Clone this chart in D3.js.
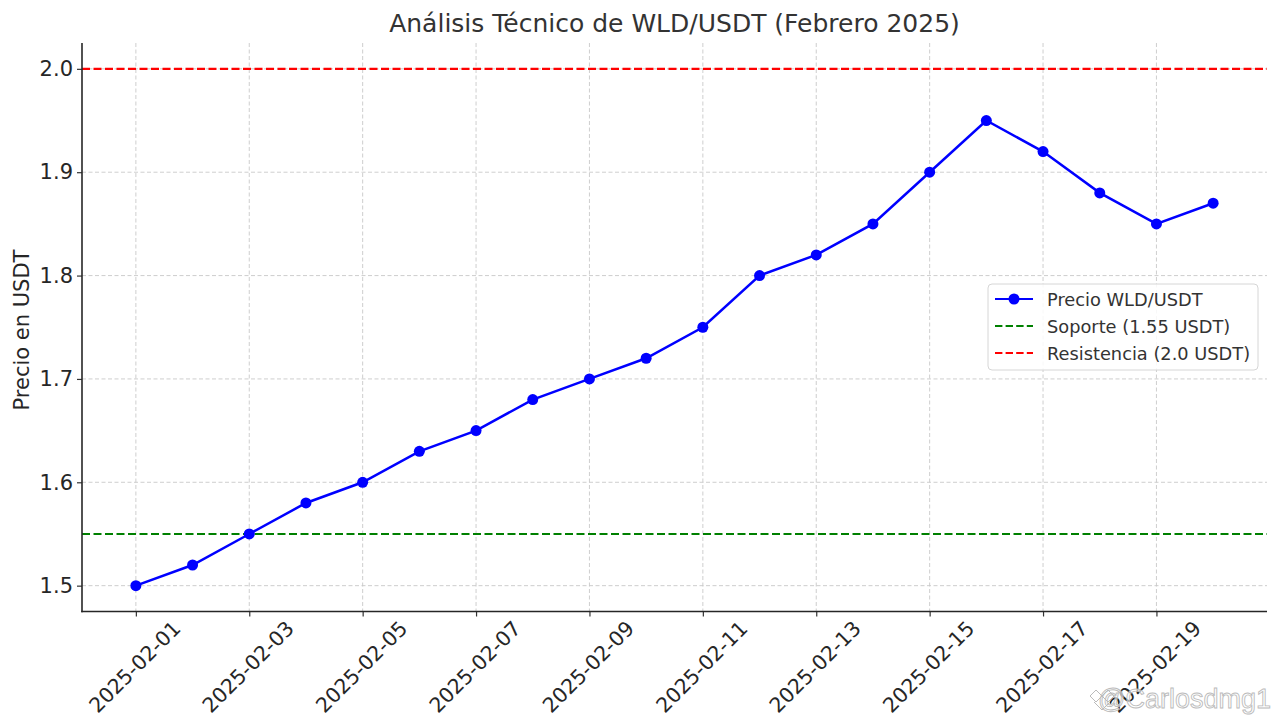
<!DOCTYPE html>
<html><head><meta charset="utf-8">
<script src="https://cdn.jsdelivr.net/npm/d3@7"></script>
<style>body{margin:0;background:#fff}svg{display:block}</style>
</head><body>
<svg id="c" width="1280" height="720"></svg>
<script>
const dates = ["2025-02-01","2025-02-02","2025-02-03","2025-02-04","2025-02-05","2025-02-06","2025-02-07","2025-02-08","2025-02-09","2025-02-10","2025-02-11","2025-02-12","2025-02-13","2025-02-14","2025-02-15","2025-02-16","2025-02-17","2025-02-18","2025-02-19","2025-02-20"];
const prices = [1.50,1.52,1.55,1.58,1.60,1.63,1.65,1.68,1.70,1.72,1.75,1.80,1.82,1.85,1.90,1.95,1.92,1.88,1.85,1.87];
const support = 1.55;
const resistance = 2.0;
const yTicks = [1.5,1.6,1.7,1.8,1.9,2.0];
const xTickLabels = ["2025-02-01","2025-02-03","2025-02-05","2025-02-07","2025-02-09","2025-02-11","2025-02-13","2025-02-15","2025-02-17","2025-02-19"];
const legendLabels = ["Precio WLD/USDT","Soporte (1.55 USDT)","Resistencia (2.0 USDT)"];

const font = "DejaVu Sans, sans-serif";
const svg = d3.select("#c");
const L = 82, R = 1267, T = 43, B = 611.5;
const parse = d3.utcParse("%Y-%m-%d");
const d0 = parse(dates[0]), d1 = parse(dates[dates.length-1]);
const span = d1 - d0;
const x = d3.scaleUtc().domain([new Date(+d0 - span*0.05), new Date(+d1 + span*0.05)]).range([L, R]);
const y = d3.scaleLinear().domain([1.475, 2.025]).range([B, T]);

// grid
const g = svg.append("g");
g.selectAll(".vg").data(xTickLabels).join("line")
  .attr("x1", d => x(parse(d))).attr("x2", d => x(parse(d)))
  .attr("y1", T).attr("y2", B)
  .attr("stroke", "#c8c8c8").attr("stroke-width", 0.9).attr("stroke-dasharray", "4,2.5");
g.selectAll(".hg").data(yTicks).join("line")
  .attr("x1", L).attr("x2", R)
  .attr("y1", d => y(d)).attr("y2", d => y(d))
  .attr("stroke", "#c8c8c8").attr("stroke-width", 0.9).attr("stroke-dasharray", "4,2.5");

// reference lines
svg.append("line").attr("x1", L).attr("x2", R).attr("y1", y(support)).attr("y2", y(support))
  .attr("stroke", "#008000").attr("stroke-width", 2.2).attr("stroke-dasharray", "8,3.5");
svg.append("line").attr("x1", L).attr("x2", R).attr("y1", y(resistance)).attr("y2", y(resistance))
  .attr("stroke", "#ff0000").attr("stroke-width", 2.2).attr("stroke-dasharray", "8,3.5");

// price line
const pts = dates.map((d,i) => ({d: parse(d), v: prices[i]}));
svg.append("path").datum(pts)
  .attr("d", d3.line().x(p => x(p.d)).y(p => y(p.v)))
  .attr("fill", "none").attr("stroke", "#0000ff").attr("stroke-width", 2.5);
svg.selectAll(".pt").data(pts).join("circle")
  .attr("cx", p => x(p.d)).attr("cy", p => y(p.v)).attr("r", 5.5)
  .attr("fill", "#0000ff");

// axes
const xAxis = d3.axisBottom(x).tickValues(xTickLabels.map(parse)).tickSize(5).tickFormat("");
const xa = svg.append("g").attr("transform", `translate(0,${B})`).call(xAxis);
xa.select(".domain").remove();
xa.selectAll(".tick line").attr("stroke", "#333").attr("stroke-width", 1.2);
const yAxis = d3.axisLeft(y).tickValues(yTicks).tickSize(5).tickFormat(d3.format(".1f"));
const ya = svg.append("g").attr("transform", `translate(${L},0)`).call(yAxis);
ya.select(".domain").remove();
ya.selectAll(".tick line").attr("stroke", "#333").attr("stroke-width", 1.2);
ya.selectAll(".tick text").attr("font-family", font).attr("font-size", 21).attr("fill", "#262626").attr("x", -9);

svg.append("line").attr("x1", L).attr("x2", L).attr("y1", T).attr("y2", B+0.8).attr("stroke", "#262626").attr("stroke-width", 1.6);
svg.append("line").attr("x1", L-0.8).attr("x2", R).attr("y1", B).attr("y2", B).attr("stroke", "#262626").attr("stroke-width", 1.6);

// x labels rotated
svg.selectAll(".xl").data(xTickLabels).join("text")
  .attr("transform", d => `translate(${x(parse(d)) - 1},${667}) rotate(-45)`)
  .attr("text-anchor", "middle").attr("dominant-baseline", "central")
  .attr("font-family", font).attr("font-size", 20.5).attr("fill", "#262626")
  .text(d => d);

// title & label
svg.append("text").attr("x", (L+R)/2).attr("y", 32).attr("text-anchor", "middle")
  .attr("font-family", font).attr("font-size", 25).attr("fill", "#333").text("Análisis Técnico de WLD/USDT (Febrero 2025)");
svg.append("text").attr("transform", `translate(29,${330}) rotate(-90)`).attr("text-anchor", "middle")
  .attr("font-family", font).attr("font-size", 21).attr("fill", "#262626").text("Precio en USDT");

// legend
const lg = svg.append("g").attr("transform", "translate(988,284)");
lg.append("rect").attr("width", 270).attr("height", 86).attr("rx", 4)
  .attr("fill", "#fff").attr("fill-opacity", 0.85).attr("stroke", "#d6d6d6").attr("stroke-width", 1);
const styles = [{c:"#0000ff", dash:null, m:true},{c:"#008000", dash:"7.4,3.2"},{c:"#ff0000", dash:"7.4,3.2"}];
legendLabels.forEach((t,i) => {
  const yy = 15 + i*27;
  lg.append("line").attr("x1", 7).attr("x2", 45).attr("y1", yy).attr("y2", yy)
    .attr("stroke", styles[i].c).attr("stroke-width", 2.2).attr("stroke-dasharray", styles[i].dash);
  if (styles[i].m) lg.append("circle").attr("cx", 26).attr("cy", yy).attr("r", 5.5).attr("fill", styles[i].c);
  lg.append("text").attr("x", 59).attr("y", yy).attr("dominant-baseline", "central")
    .attr("font-family", font).attr("font-size", 17.8).attr("fill", "#333").text(t);
});

// watermark
svg.append("text").attr("x", 1271).attr("y", 708).attr("text-anchor", "end")
  .attr("font-family", "Liberation Sans, sans-serif").attr("font-size", 27)
  .attr("fill", "rgba(255,255,255,0.6)").attr("stroke", "#bbbbbb").attr("stroke-width", 0.9)
  .text("@Carlosdmg1");
const wm = svg.append("g").attr("transform", "translate(1090,690)").attr("fill", "none").attr("stroke", "#bbbbbb").attr("stroke-width", 1);
wm.append("path").attr("d", "M0,6 L6,0 L12,6 L18,0 L24,6 L18,12 L12,6 L6,12 Z");
wm.append("path").attr("d", "M4,12 L12,20 L20,12");
</script>
</body></html>
